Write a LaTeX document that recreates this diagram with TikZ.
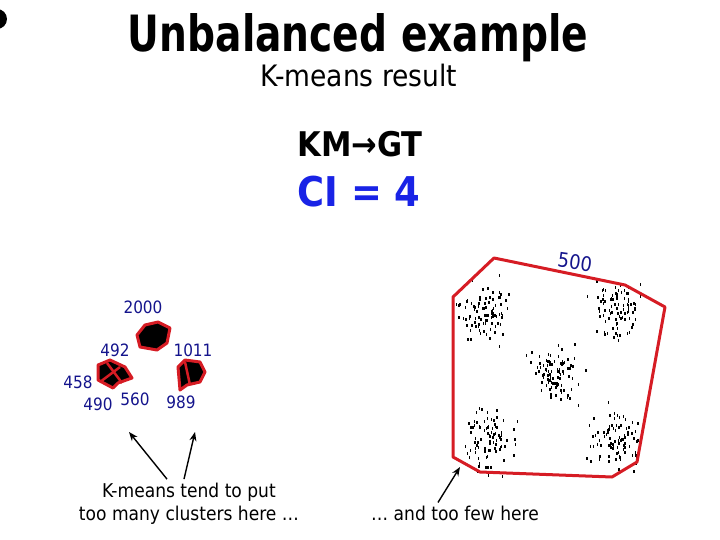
\documentclass[tikz,border=0pt]{standalone}
\usepackage{fontspec}
\setmainfont{DejaVu Sans Condensed}
\usepackage{tikz}
\usetikzlibrary{positioning, arrows.meta, calc}
\definecolor{hullred}{RGB}{214,28,36}
\definecolor{numblue}{RGB}{20,20,140}
\definecolor{ciblue}{RGB}{25,35,230}
\tikzset{
  title/.style={font=\bfseries\fontsize{50}{54}\selectfont, inner sep=0pt},
  sub/.style={font=\fontsize{29.5}{32}\selectfont, inner sep=0pt},
  count/.style={text=numblue, font=\fontsize{17}{19}\selectfont, inner sep=0pt},
  note/.style={font=\fontsize{19}{23}\selectfont, align=center, inner sep=0pt},
  hull/.style={draw=hullred, line width=3pt, line join=round},
  blob/.style={hull, fill=black},
  cut/.style={draw=hullred, line width=2.5pt},
  point/.style={-{Stealth[length=9pt, width=7pt]}, line width=1.4pt},
}

\begin{document}
\begin{tikzpicture}[x=1pt, y=-1pt]
  \useasboundingbox (0,0) rectangle (720,540);
  \fill (-3,19) circle (10);

  % headings
  \node[title, anchor=base] (head) at (358,52) {\scalebox{0.87}[1]{Unbalanced example}};
  \node[sub, anchor=base] (res) at (359,87) {K-means result};
  \node[title, font=\bfseries\fontsize{34}{36}\selectfont, anchor=base] (km) at (360,157) {KM→GT};
  \node[title, font=\bfseries\fontsize{41}{44}\selectfont, text=ciblue, anchor=base] (ci) at (359,207) {CI = 4};

  % ground truth data: five clusters in one hull
  \pgfmathsetseed{17}
  \foreach \cx/\cy in {483/310, 617/307, 553/372, 487/440, 613/437} {
    \foreach \i in {1,...,90} {
      \pgfmathsetmacro\px{\cx+12*(rand+rand+rand)}
      \pgfmathsetmacro\py{\cy+14*(rand+rand+rand)}
      \fill (\px,\py) rectangle ++(1.5,3);
    }
  }
  \draw[hull] (453,297) -- (494,258) -- (625,285) -- (665,307) -- (637,462)
    -- (612,477) -- (480,472) -- (453,457) -- cycle;
  \node[count, font=\fontsize{20}{22}\selectfont, rotate=-8] (big) at (575,262) {500};

  % k-means clusters
  \draw[blob] (137,335) -- (145,325) -- (158,322) -- (170,328) -- (167,343)
    -- (157,350) -- (140,347) -- cycle;
  \draw[blob] (98,365) -- (110,360) -- (125,367) -- (132,378) -- (118,383)
    -- (113,388) -- (98,380) -- cycle;
  \draw[cut] (107,363) -- (122,383);
  \draw[cut] (100,382) -- (120,367);
  \draw[blob] (178,367) -- (185,360) -- (200,362) -- (205,372) -- (200,382)
    -- (187,385) -- (180,390) -- cycle;
  \draw[cut] (185,362) -- (190,385);

  \node[count] (c2000) at (143,307) {2000};
  \node[count] (c492) at (115,350) {492};
  \node[count] (c1011) at (193,350) {1011};
  \node[count] (c458) at (78,382) {458};
  \node[count] (c490) at (98,404) {490};
  \node[count] (c560) at (135,399) {560};
  \node[count] (c989) at (181,402) {989};

  % comments
  \node[note] (many) at (189,504) {K-means tend to put\\too many clusters here …};
  \node[note] (few) at (455,513) {… and too few here};
  \coordinate (left) at (129,432);
  \coordinate (right) at (195,432);
  \coordinate (hole) at (460,467);
  \draw[point] ([xshift=-22pt, yshift=4pt]many.north) -- (left);
  \draw[point] ([xshift=-5pt, yshift=4pt]many.north) -- (right);
  \draw[point] ([xshift=-17pt, yshift=3pt]few.north) -- (hole);
\end{tikzpicture}
\end{document}
